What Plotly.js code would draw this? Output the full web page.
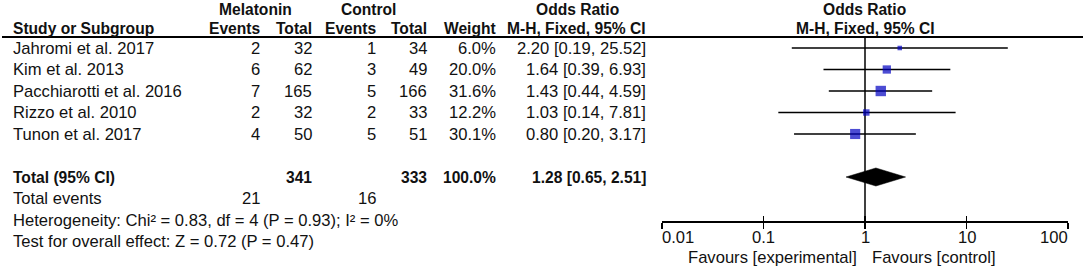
<!DOCTYPE html>
<html>
<head>
<meta charset="utf-8">
<script src="https://cdn.plot.ly/plotly-3.0.1.min.js"></script>
<style>html,body{margin:0;padding:0;background:#fff;}#chart{width:1084px;height:267px;}</style>
</head>
<body>
<div id="chart"></div>
<script>
// ---- data ----
const studies = ["Jahromi et al. 2017", "Kim et al. 2013", "Pacchiarotti et al. 2016", "Rizzo et al. 2010", "Tunon et al. 2017"];
const melEvents = [2, 6, 7, 2, 4];
const melTotal = [32, 62, 165, 32, 50];
const ctlEvents = [1, 3, 5, 2, 5];
const ctlTotal = [34, 49, 166, 33, 51];
const weights = [6.0, 20.0, 31.6, 12.2, 30.1];
const oddsRatio = [2.20, 1.64, 1.43, 1.03, 0.80];
const ciLow = [0.19, 0.39, 0.44, 0.14, 0.20];
const ciHigh = [25.52, 6.93, 4.59, 7.81, 3.17];
const pooled = {or: 1.28, lo: 0.65, hi: 2.51};
const totalMel = 341, totalCtl = 333, totalWeight = 100.0;
const totalEventsMel = 21, totalEventsCtl = 16;
const heterogeneityText = "Heterogeneity: Chi² = 0.83, df = 4 (P = 0.93); I² = 0%";
const overallText = "Test for overall effect: Z = 0.72 (P = 0.47)";
const tickValues = [0.01, 0.1, 1, 10, 100];
const tickLabels = ["0.01", "0.1", "1", "10", "100"];

// ---- layout helpers ----
const W = 1084, H = 267;
const FONT = "Liberation Sans, Arial, sans-serif";
const FS = 16.6, FSB = 15.6;
const TXT = "#111";
const rowTop = 48, rowStep = 21.5;             // pixel of row 0, px per row
const yRange = [(H - rowTop) / rowStep, -rowTop / rowStep];
const axisPx = 221;
const axisRow = (axisPx - rowTop) / rowStep;
const px = v => v / W;
const rowOf = p => (p - rowTop) / rowStep;

const col = {study: 13, melEv: 260, melTot: 312, ctlEv: 376, ctlTot: 427, weight: 496, ci: 646};
const fmt2 = v => v.toFixed(2);
const ciText = (o, l, h) => fmt2(o) + " [" + fmt2(l) + ", " + fmt2(h) + "]";

const ann = [];
function txt(text, xPx, row, anchor, bold) {
  ann.push({text: bold ? "<b>" + text + "</b>" : text, xref: "paper", yref: "y", x: px(xPx), y: row,
    xanchor: anchor, yanchor: "middle", showarrow: false, borderpad: 0, borderwidth: 0,
    font: {family: FONT, size: bold ? FSB : FS, color: TXT}});
}
// headers
const h1 = rowOf(9.5), h2 = rowOf(28);
txt("Melatonin", 255, h1, "center", true);
txt("Control", 368, h1, "center", true);
txt("Odds Ratio", 577, h1, "center", true);
txt("Odds Ratio", 864, h1, "center", true);
txt("Study or Subgroup", col.study, h2, "left", true);
txt("Events", col.melEv, h2, "right", true);
txt("Total", col.melTot, h2, "right", true);
txt("Events", col.ctlEv, h2, "right", true);
txt("Total", col.ctlTot, h2, "right", true);
txt("Weight", col.weight, h2, "right", true);
txt("M-H, Fixed, 95% CI", col.ci, h2, "right", true);
txt("M-H, Fixed, 95% CI", 865, h2, "center", true);
// study rows
studies.forEach((s, i) => {
  txt(s, col.study, i, "left");
  txt(String(melEvents[i]), col.melEv, i, "right");
  txt(String(melTotal[i]), col.melTot, i, "right");
  txt(String(ctlEvents[i]), col.ctlEv, i, "right");
  txt(String(ctlTotal[i]), col.ctlTot, i, "right");
  txt(weights[i].toFixed(1) + "%", col.weight, i, "right");
  txt(ciText(oddsRatio[i], ciLow[i], ciHigh[i]), col.ci, i, "right");
});
const totalRow = studies.length + 1;
txt("Total (95% CI)", col.study, totalRow, "left", true);
txt(String(totalMel), col.melTot, totalRow, "right", true);
txt(String(totalCtl), col.ctlTot, totalRow, "right", true);
txt(totalWeight.toFixed(1) + "%", col.weight, totalRow, "right", true);
txt(ciText(pooled.or, pooled.lo, pooled.hi), col.ci, totalRow, "right", true);
txt("Total events", col.study, totalRow + 1, "left");
txt(String(totalEventsMel), col.melEv, totalRow + 1, "right");
txt(String(totalEventsCtl), col.ctlEv, totalRow + 1, "right");
txt(heterogeneityText, col.study, totalRow + 2, "left");
txt(overallText, col.study, totalRow + 3, "left");

// axis tick labels (end labels kept inside axis)
const tickRow = rowOf(237);
tickValues.forEach((v, i) => {
  const anchor = i === 0 ? "left" : (i === tickValues.length - 1 ? "right" : "center");
  ann.push({text: tickLabels[i], xref: "x", yref: "y", x: Math.log10(v), y: tickRow, xanchor: anchor,
    yanchor: "middle", showarrow: false, borderpad: 0, borderwidth: 0, font: {family: FONT, size: FS, color: TXT}});
});
const favRow = rowOf(257);
txt("Favours [experimental]", 857, favRow, "right");
txt("Favours [control]", 872, favRow, "left");

// ---- traces ----
const ciX = [], ciY = [];
studies.forEach((s, i) => { ciX.push(ciLow[i], ciHigh[i], null); ciY.push(i, i, null); });
const ciTrace = {type: "scatter", mode: "lines", x: ciX, y: ciY, line: {color: "#000", width: 1.5},
  hoverinfo: "skip", showlegend: false};
const pointTrace = {type: "scatter", mode: "markers", x: oddsRatio, y: studies.map((s, i) => i),
  marker: {symbol: "square", color: "#0000c0", size: weights.map(w => 1.85 * Math.sqrt(w)), line: {width: 0}},
  showlegend: false};
const dh = 0.42;
const diamond = {type: "scatter", mode: "lines", fill: "toself", fillcolor: "#000",
  x: [pooled.lo, pooled.or, pooled.hi, pooled.or, pooled.lo],
  y: [totalRow, totalRow - dh, totalRow, totalRow + dh, totalRow],
  line: {color: "#000", width: 0.5}, showlegend: false};

const xBase = {type: "log", range: [-2, 2], domain: [662 / W, 1068 / W], anchor: "free", position: 1 - axisPx / H,
  showgrid: false, zeroline: false, tickvals: tickValues, showticklabels: false, tickcolor: "#000", tickwidth: 1.5};
const layout = {
  width: W, height: H, margin: {l: 0, r: 0, t: 0, b: 0}, paper_bgcolor: "#fff", plot_bgcolor: "rgba(0,0,0,0)",
  showlegend: false,
  xaxis: Object.assign({}, xBase, {showline: true, linecolor: "#000", linewidth: 1.5, ticks: "outside", ticklen: 6}),
  xaxis2: Object.assign({}, xBase, {overlaying: "x", showline: false, ticks: "inside", ticklen: 5}),
  yaxis: {range: yRange, domain: [0, 1], showgrid: false, zeroline: false, showticklabels: false, showline: false, ticks: ""},
  annotations: ann,
  shapes: [
    {type: "line", xref: "paper", yref: "y", x0: 2 / W, x1: 1083 / W, y0: rowOf(37), y1: rowOf(37), line: {color: "#000", width: 2}},
    {type: "line", xref: "x", yref: "y", x0: 1, x1: 1, y0: rowOf(37), y1: axisRow, line: {color: "#000", width: 1.5}, layer: "below"}
  ]
};
const dummy2 = {type: "scatter", x: [1], y: [0], xaxis: "x2", mode: "markers", marker: {opacity: 0}, hoverinfo: "skip", showlegend: false};
Plotly.newPlot("chart", [ciTrace, diamond, pointTrace, dummy2], layout, {staticPlot: true});
</script>
</body>
</html>
